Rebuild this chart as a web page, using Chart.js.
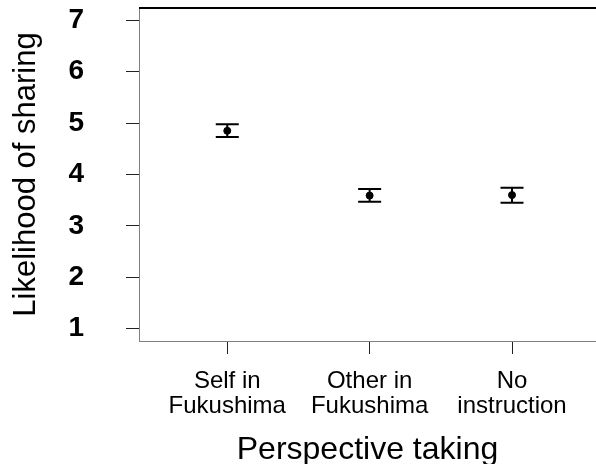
<!DOCTYPE html>
<html>
<head>
<meta charset="utf-8">
<script src="https://cdn.jsdelivr.net/npm/chart.js@4"></script>
<style>
  html, body { margin: 0; padding: 0; background: #fff; }
  #wrap { width: 596px; height: 464px; }
</style>
</head>
<body>
<div id="wrap"><canvas id="chart"></canvas></div>
<script>
// data
const groupLabels = [['Self in', 'Fukushima'], ['Other in', 'Fukushima'], ['No', 'instruction']];
const groupPos = [1, 2, 3];
const means = [4.85, 3.59, 3.60];
const lowerCI = [4.73, 3.47, 3.45];
const upperCI = [4.98, 3.72, 3.74];
const yTicks = [1, 2, 3, 4, 5, 6, 7];

const font = 'Liberation Sans, Arial, sans-serif';

// error bars + top border of the box
const errorBars = {
    id: 'errorBars',
    afterDatasetsDraw(chart) {
        const ctx = chart.ctx;
        const x = chart.scales.x, y = chart.scales.y;
        ctx.save();
        ctx.strokeStyle = '#000';
        ctx.lineWidth = 2;
        groupPos.forEach((p, i) => {
            const px = x.getPixelForValue(p);
            const yl = y.getPixelForValue(lowerCI[i]);
            const yu = y.getPixelForValue(upperCI[i]);
            ctx.beginPath();
            ctx.moveTo(px, yl); ctx.lineTo(px, yu);
            ctx.moveTo(px - 11.5, yl); ctx.lineTo(px + 11.5, yl);
            ctx.moveTo(px - 11.5, yu); ctx.lineTo(px + 11.5, yu);
            ctx.stroke();
        });
        const a = chart.chartArea;
        ctx.beginPath();
        ctx.moveTo(a.left, a.top); ctx.lineTo(chart.width, a.top);
        ctx.stroke();
        ctx.restore();
    }
};

new Chart(document.getElementById('chart'), {
    type: 'scatter',
    data: {
        datasets: [{
            data: groupPos.map((p, i) => ({ x: p, y: means[i] })),
            backgroundColor: '#000',
            borderColor: '#000',
            pointRadius: 3.5,
            pointHoverRadius: 3.5
        }]
    },
    options: {
        responsive: true,
        maintainAspectRatio: false,
        animation: false,
        layout: { autoPadding: false, padding: { top: 8, left: 0, right: 0, bottom: 0 } },
        plugins: {
            legend: { display: false },
            tooltip: { enabled: false }
        },
        scales: {
            x: {
                type: 'linear',
                min: 0.38,
                max: 3.59,
                afterBuildTicks: function(scale) {
                    scale.ticks = groupPos.map(v => ({ value: v }));
                },
                afterFit: function(scale) {
                    scale.height = 123;
                    scale.paddingLeft = 0;
                    scale.paddingRight = 0;
                },
                border: { display: true, color: '#808080', width: 1 },
                grid: {
                    drawOnChartArea: false,
                    drawTicks: true,
                    tickLength: 13,
                    color: '#222'
                },
                ticks: {
                    padding: 15,
                    color: '#000',
                    maxRotation: 0,
                    autoSkip: false,
                    font: { family: font, size: 24, lineHeight: 1.05 },
                    callback: function(value) {
                        return groupLabels[groupPos.indexOf(value)];
                    }
                },
                title: {
                    display: true,
                    text: 'Perspective taking',
                    color: '#000',
                    padding: 0,
                    font: { family: font, size: 32, lineHeight: 0.85 }
                }
            },
            y: {
                min: 0.76,
                max: 7.24,
                afterBuildTicks: function(scale) {
                    scale.ticks = yTicks.map(v => ({ value: v }));
                },
                afterFit: function(scale) {
                    scale.width = 139;
                    scale.paddingTop = 0;
                    scale.paddingBottom = 0;
                },
                border: { display: true, color: '#808080', width: 1 },
                grid: {
                    drawOnChartArea: false,
                    drawTicks: true,
                    tickLength: 13,
                    color: '#222'
                },
                ticks: {
                    padding: 42,
                    color: '#000',
                    font: { family: font, size: 28, weight: 'bold' }
                },
                title: {
                    display: true,
                    text: 'Likelihood of sharing',
                    color: '#000',
                    padding: { top: 8, bottom: 0 },
                    font: { family: font, size: 31 }
                }
            }
        }
    },
    plugins: [errorBars]
});
</script>
</body>
</html>
